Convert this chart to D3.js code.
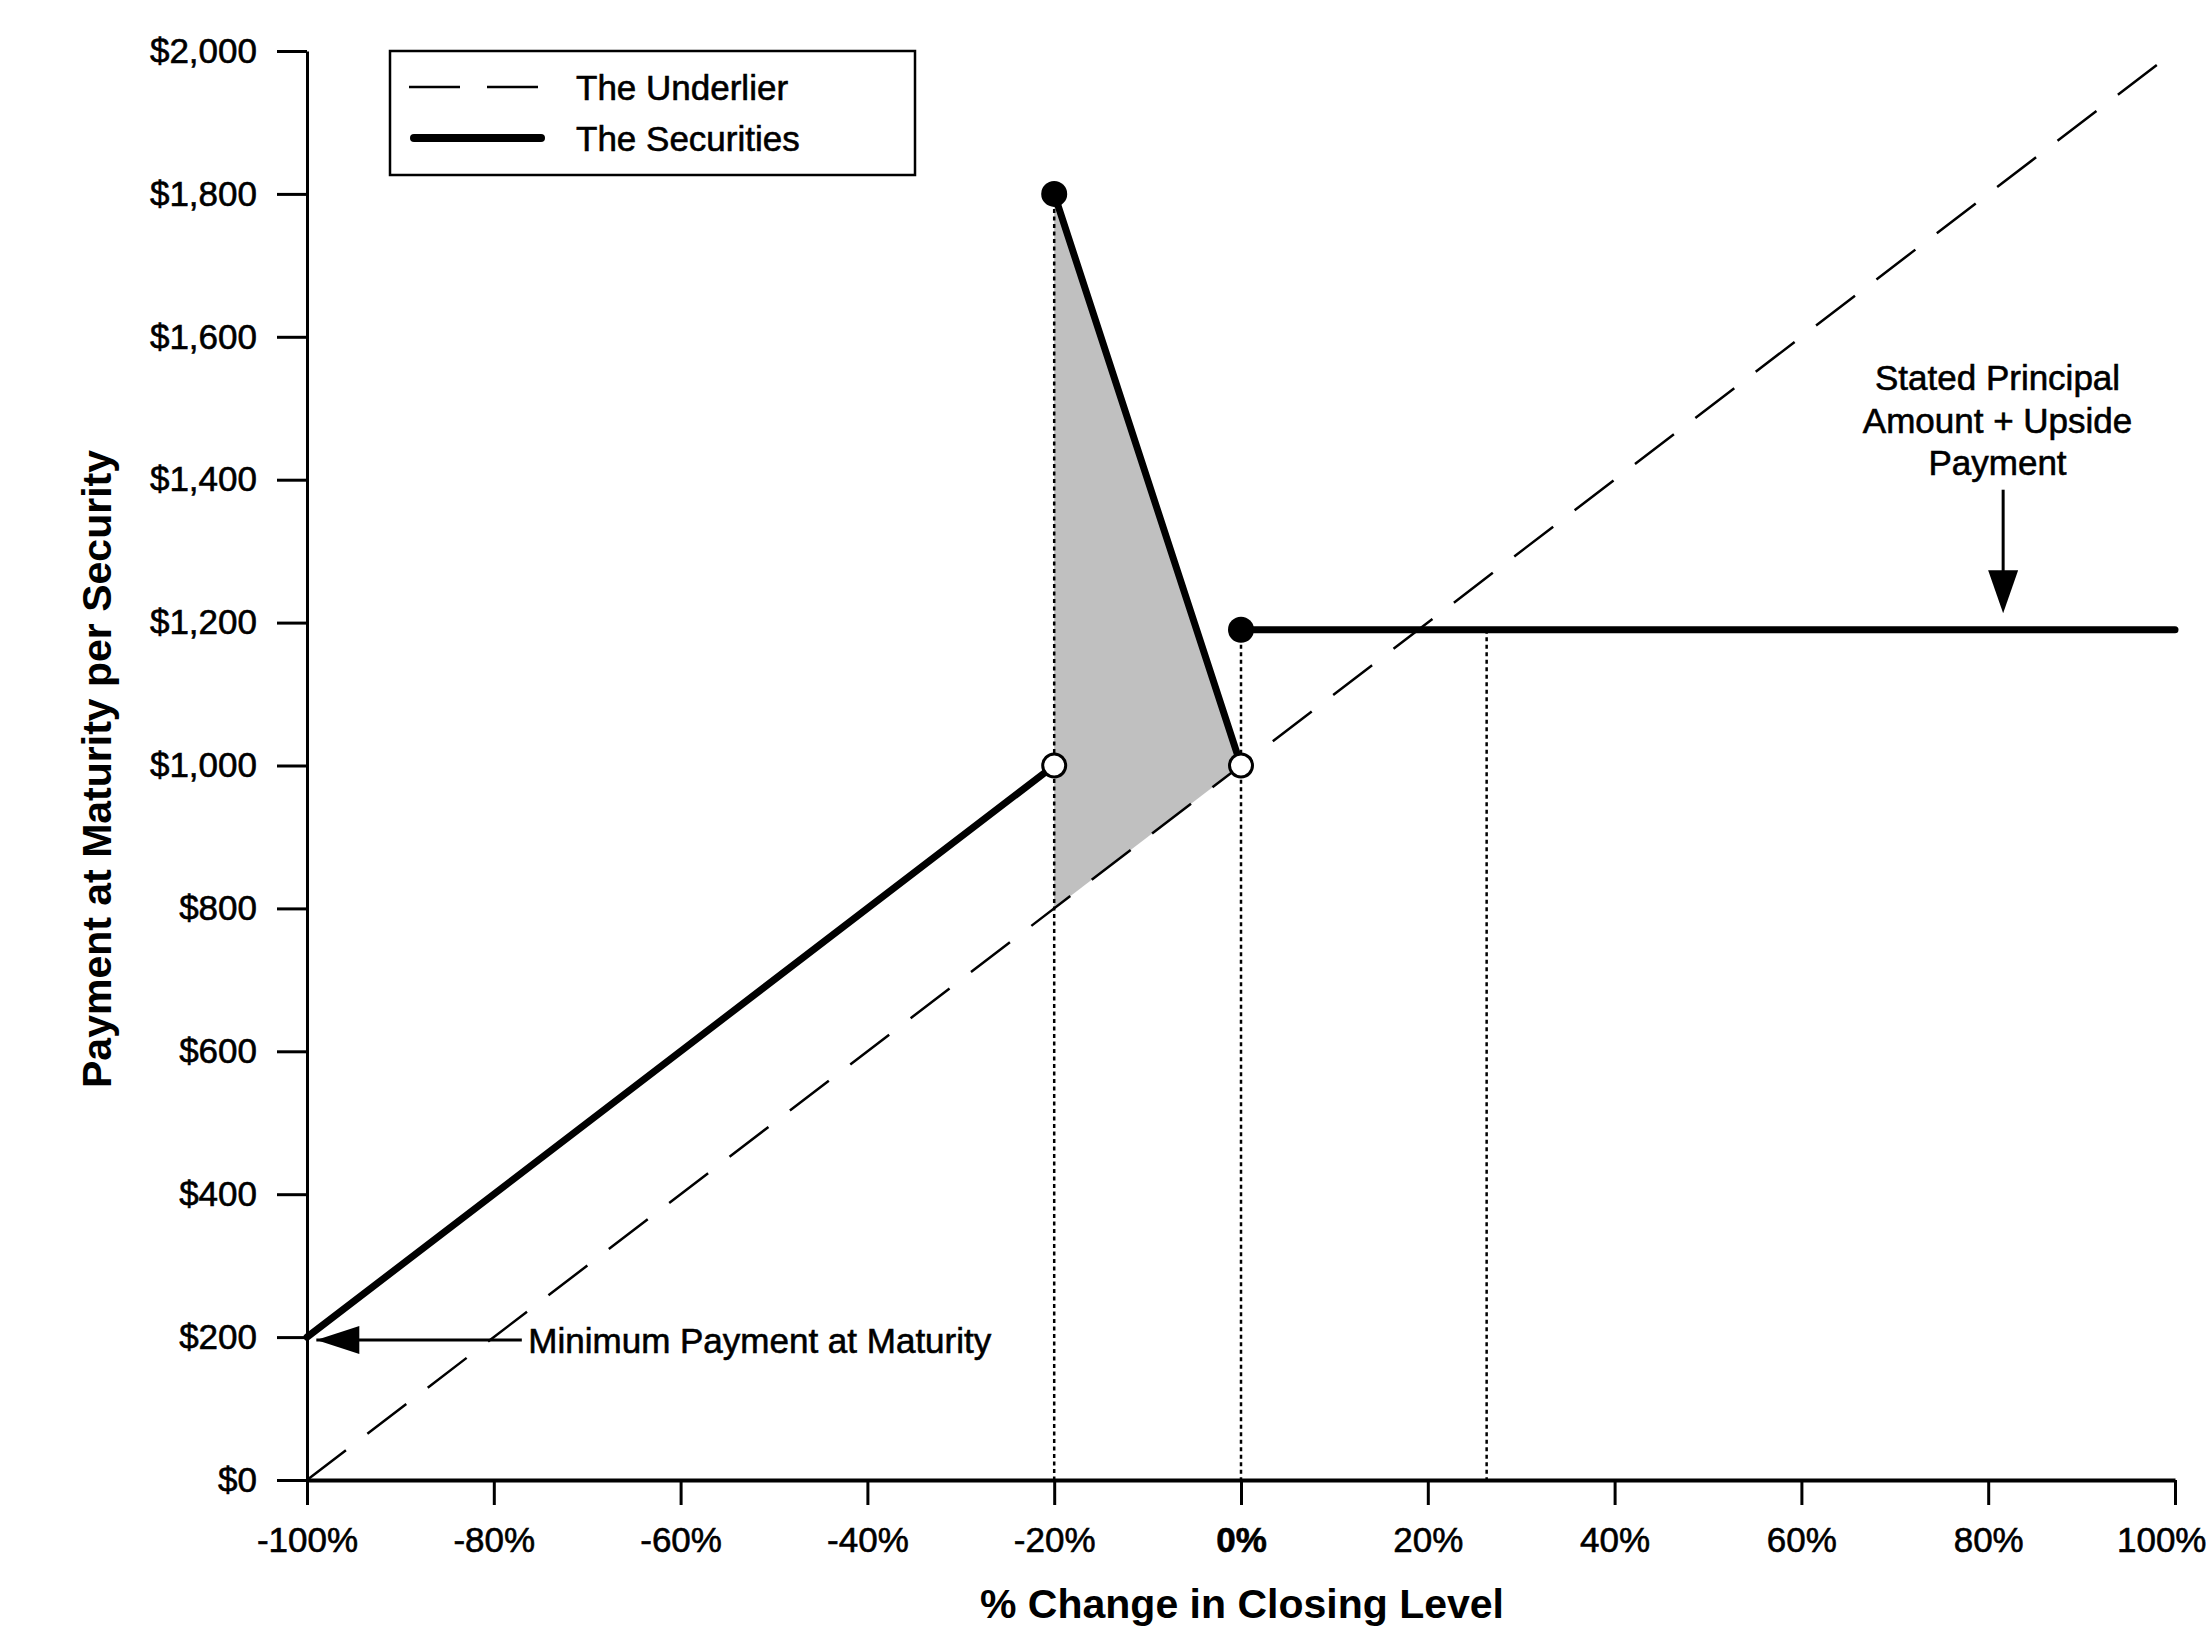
<!DOCTYPE html>
<html>
<head>
<meta charset="utf-8">
<script src="https://cdn.jsdelivr.net/npm/d3@7"></script>
<style>
  body { margin: 0; background: #fff; }
  text { font-family: Arial, "Liberation Sans", sans-serif; fill: #000; }
  .heavy { stroke: #000; stroke-width: 0.6px; }
</style>
</head>
<body>
<div id="chart-area"></div>
<script>
// tick values
const xTicks = [-100, -80, -60, -40, -20, 0, 20, 40, 60, 80, 100];
const yTicks = [0, 200, 400, 600, 800, 1000, 1200, 1400, 1600, 1800, 2000];

// the underlier: payment follows the closing level 1:1
const underlierPct = [-100, 100];
const underlierPay = [0, 2000];

// the securities, three pieces
const lowPct = [-100, -20];
const lowPay = [200, 1000];
const bonusPct = [-20, 0];
const bonusPay = [1800, 1000];
const capPct = [0, 100];
const capPay = [1190, 1190];

// markers
const filledPct = [-20, 0];
const filledPay = [1800, 1190];
const openPct = [-20, 0];
const openPay = [1000, 1000];

// grey area between the two payoffs
const shadePct = [-20, 0, -20];
const shadePay = [1800, 1000, 800];

// dotted drop lines
const dropPct = [-20, 0, 26.3];
const dropPay = [1800, 1190, 1190];

let w = 2211;
let h = 1650;

let svg = d3.select("#chart-area")
    .append("svg")
    .attr("width", w)
    .attr("height", h);

let xScale = d3.scaleLinear().domain([-100, 100]).range([307, 2175]);
let yScale = d3.scaleLinear().domain([0, 2000]).range([1480, 51]);

let zip = (a, b) => a.map((v, i) => [v, b[i]]);
let line = d3.line().x(d => xScale(d[0])).y(d => yScale(d[1]));

// shaded area
svg.append("path")
    .attr("d", line(zip(shadePct, shadePay)) + "Z")
    .attr("fill", "#c0c0c0");

// dotted verticals
svg.selectAll(".drop")
    .data(zip(dropPct, dropPay))
    .enter()
    .append("line")
    .attr("class", "drop")
    .attr("x1", d => xScale(d[0]))
    .attr("x2", d => xScale(d[0]))
    .attr("y1", d => yScale(d[1]))
    .attr("y2", yScale(0))
    .attr("stroke", "#000")
    .attr("stroke-width", 2.5)
    .attr("stroke-dasharray", "4,3.5");

// underlier
svg.append("path")
    .attr("d", line(zip(underlierPct, underlierPay)))
    .attr("fill", "none")
    .attr("stroke", "#000")
    .attr("stroke-width", 2.5)
    .attr("stroke-dasharray", "49,27");

// securities
[[lowPct, lowPay], [bonusPct, bonusPay], [capPct, capPay]].forEach(s => {
    svg.append("path")
        .attr("d", line(zip(s[0], s[1])))
        .attr("fill", "none")
        .attr("stroke", "#000")
        .attr("stroke-width", 7)
        .attr("stroke-linecap", "round");
});

svg.selectAll(".filled")
    .data(zip(filledPct, filledPay))
    .enter()
    .append("circle")
    .attr("cx", d => xScale(d[0]))
    .attr("cy", d => yScale(d[1]))
    .attr("r", 13)
    .attr("fill", "#000");

svg.selectAll(".open")
    .data(zip(openPct, openPay))
    .enter()
    .append("circle")
    .attr("cx", d => xScale(d[0]))
    .attr("cy", d => yScale(d[1]))
    .attr("r", 11.5)
    .attr("fill", "#fff")
    .attr("stroke", "#000")
    .attr("stroke-width", 3);

// axes
let xAxis = d3.axisBottom(xScale)
    .tickValues(xTicks)
    .tickSize(25)
    .tickSizeOuter(0)
    .tickPadding(22)
    .tickFormat(d => d + "%");

let yAxis = d3.axisLeft(yScale)
    .tickValues(yTicks)
    .tickSize(30)
    .tickSizeOuter(0)
    .tickPadding(20)
    .tickFormat(d3.format("$,"));

let gx = svg.append("g")
    .attr("transform", "translate(0," + yScale(0) + ")")
    .call(xAxis);
gx.select(".domain").attr("stroke-width", 4);
gx.selectAll(".tick line").attr("stroke-width", 3);
gx.selectAll(".tick text")
    .attr("font-size", 35)
    .attr("font-weight", d => d === 0 ? "bold" : "normal");
// last label sits against the right edge, as in the original
gx.selectAll(".tick text")
    .filter(d => d === 100)
    .attr("text-anchor", "end")
    .attr("x", 31);

let gy = svg.append("g")
    .attr("transform", "translate(" + xScale(-100) + ",0)")
    .call(yAxis);
gy.select(".domain").attr("stroke-width", 3);
gy.selectAll(".tick line").attr("stroke-width", 3);
gy.selectAll(".tick text").attr("font-size", 35);

svg.selectAll(".domain, .tick line").attr("stroke", "#000");
svg.selectAll(".tick text")
    .attr("fill", "#000")
    .attr("class", "heavy")
    .attr("font-family", "Arial, 'Liberation Sans', sans-serif");

// axis titles
svg.append("text")
    .attr("x", 1242)
    .attr("y", 1618)
    .attr("text-anchor", "middle")
    .attr("font-size", 41)
    .attr("font-weight", "bold")
    .text("% Change in Closing Level");

svg.append("text")
    .attr("transform", "translate(111,769) rotate(-90)")
    .attr("text-anchor", "middle")
    .attr("font-size", 41)
    .attr("font-weight", "bold")
    .text("Payment at Maturity per Security");

// legend
let legend = svg.append("g");
legend.append("rect")
    .attr("x", 390).attr("y", 51)
    .attr("width", 525).attr("height", 124)
    .attr("fill", "#fff")
    .attr("stroke", "#000")
    .attr("stroke-width", 2.5);
legend.append("line")
    .attr("x1", 409).attr("x2", 538)
    .attr("y1", 87).attr("y2", 87)
    .attr("stroke", "#000")
    .attr("stroke-width", 2.5)
    .attr("stroke-dasharray", "51,27");
legend.append("line")
    .attr("x1", 414).attr("x2", 541)
    .attr("y1", 138).attr("y2", 138)
    .attr("stroke", "#000")
    .attr("stroke-width", 8)
    .attr("stroke-linecap", "round");
legend.append("text")
    .attr("class", "heavy")
    .attr("x", 576).attr("y", 100)
    .attr("font-size", 35)
    .text("The Underlier");
legend.append("text")
    .attr("class", "heavy")
    .attr("x", 576).attr("y", 151)
    .attr("font-size", 35)
    .text("The Securities");

// annotations
let arrowHead = (tipX, tipY, dir) => {
    // dir: "left" or "down"
    let pts = dir === "left"
        ? [[tipX, tipY], [tipX + 43, tipY - 14], [tipX + 43, tipY + 14]]
        : [[tipX, tipY], [tipX - 15, tipY - 43], [tipX + 15, tipY - 43]];
    svg.append("path")
        .attr("d", "M" + pts.join("L") + "Z")
        .attr("fill", "#000");
};

// minimum payment
svg.append("line")
    .attr("x1", xScale(-99)).attr("x2", xScale(-77))
    .attr("y1", yScale(196)).attr("y2", yScale(196))
    .attr("stroke", "#000")
    .attr("stroke-width", 3);
arrowHead(xScale(-99), yScale(196), "left");
svg.append("text")
    .attr("class", "heavy")
    .attr("x", xScale(-76.3))
    .attr("y", yScale(196))
    .attr("dy", "0.36em")
    .attr("font-size", 35)
    .text("Minimum Payment at Maturity");

// upside payment
svg.append("line")
    .attr("x1", xScale(81.6)).attr("x2", xScale(81.6))
    .attr("y1", yScale(1386)).attr("y2", yScale(1260))
    .attr("stroke", "#000")
    .attr("stroke-width", 3);
arrowHead(xScale(81.6), yScale(1213), "down");

let noteLines = ["Stated Principal", "Amount + Upside", "Payment"];
svg.selectAll(".note")
    .data(noteLines)
    .enter()
    .append("text")
    .attr("class", "heavy")
    .attr("x", xScale(81))
    .attr("y", (d, i) => 390 + i * 42.5)
    .attr("text-anchor", "middle")
    .attr("font-size", 35)
    .text(d => d);
</script>
</body>
</html>
